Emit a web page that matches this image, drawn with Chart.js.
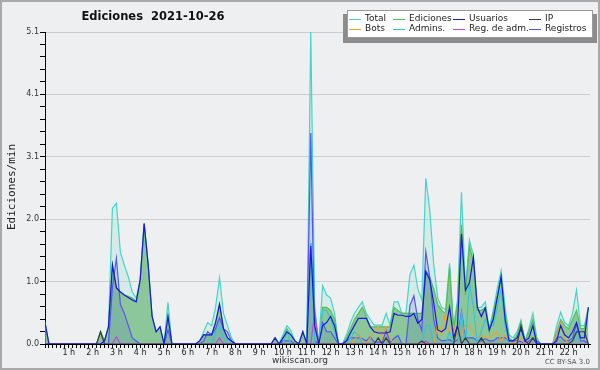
<!DOCTYPE html>
<html><head><meta charset="utf-8">
<script src="https://cdn.jsdelivr.net/npm/chart.js@4.4.0/dist/chart.umd.min.js"></script>
<style>html,body{margin:0;padding:0;background:#eeeff1;}canvas{display:block;}</style>
</head><body><canvas id="c" width="600" height="370"></canvas>
<script>
// ---- data: one value every 10 minutes from 00:00 ----
const titleText = 'Ediciones  2021-10-26';
const yTitle = 'Ediciones/min';
const yMax = 5.1;
const yTickLabels = ['0.0','1.0','2.0','3.1','4.1','5.1'];
const hourLabels = ['','1 h','2 h','3 h','4 h','5 h','6 h','7 h','8 h','9 h','10 h','11 h','12 h','13 h','14 h','15 h','16 h','17 h','18 h','19 h','20 h','21 h','22 h',''];
const seriesNames = ['Total','Ediciones','Usuarios','IP','Bots','Admins.','Reg. de adm.','Registros'];

const total = [
0.35,0,0,0,0,0,0,0,0,0,
0,0,0,0,0.2,0.05,0.28,2.22,2.3,1.5,
1.29,1.1,0.85,0.75,1.05,1.97,1.3,0.45,0.2,0.28,
0,0.68,0,0,0,0,0,0,0,0.05,
0.2,0.35,0.3,0.6,1.08,0.5,0.3,0.1,0,0,
0,0,0,0,0,0,0,0,0.1,0,
0.15,0.3,0.22,0.05,0,0.2,0,5.1,0.6,0,
0.95,0.8,0.75,0.5,0,0,0.15,0.35,0.5,0.6,
0.69,0.5,0.4,0.31,0.31,0.31,0.5,0.31,0.69,0.69,
0.5,0.5,1.13,1.29,0.9,0.72,2.71,2.19,1.3,0.75,
0.6,0.56,1.32,0.28,0.72,2.48,0.9,1.7,1.45,0.6,
0.6,0.69,0.25,0.55,0.9,1.2,0.6,0.15,0.1,0.2,
0.39,0.05,0.25,0.5,0.1,0,0,0,0,0.3,
0.52,0.35,0.3,0.5,0.88,0.3,0.3,0.6];
const ediciones = [
0.35,0,0,0,0,0,0,0,0,0,
0,0,0,0,0.2,0.05,0.28,1.29,0.92,0.85,
0.8,0.78,0.75,0.7,1.05,1.97,1.3,0.45,0.2,0.28,
0,0.45,0,0,0,0,0,0,0,0.05,
0.15,0.15,0.15,0.35,0.65,0.25,0.1,0.05,0,0,
0,0,0,0,0,0,0,0,0.1,0,
0.1,0.25,0.15,0.05,0,0.2,0,1.65,0.55,0,
0.6,0.6,0.55,0.4,0,0,0.1,0.25,0.4,0.5,
0.6,0.45,0.28,0.28,0.28,0.28,0.28,0.28,0.6,0.55,
0.5,0.5,0.5,0.5,0.5,0.5,1.2,1.1,0.9,0.65,
0.55,0.5,1.25,0.25,0.65,1.95,0.8,1.6,1.35,0.55,
0.55,0.6,0.2,0.5,0.8,1.1,0.5,0.1,0.05,0.15,
0.35,0.05,0.2,0.4,0.05,0,0,0,0,0.2,
0.4,0.3,0.25,0.4,0.55,0.25,0.25,0.6];
const usuarios = [
0.35,0,0,0,0,0,0,0,0,0,
0,0,0,0,0,0.05,0.28,1.29,0.92,0.85,
0.8,0.76,0.72,0.69,1.05,1.97,1.3,0.45,0.2,0.28,
0,0.45,0,0,0,0,0,0,0,0.05,
0.15,0.15,0.15,0.35,0.65,0.25,0.1,0.05,0,0,
0,0,0,0,0,0,0,0,0.1,0,
0.1,0.2,0.15,0.05,0,0.2,0,1.6,0.3,0,
0.3,0.35,0.45,0.3,0,0,0.05,0.18,0.3,0.42,
0.42,0.42,0.28,0.2,0.18,0.18,0.18,0.2,0.5,0.47,
0.47,0.45,0.45,0.5,0.34,0.4,1.18,1.05,0.67,0.23,
0.2,0.25,0.6,0.1,0.3,1.8,0.88,1.0,1.42,0.6,
0.45,0.59,0.23,0.4,0.75,1.1,0.4,0.05,0.05,0.1,
0.25,0.05,0.1,0.3,0,0,0,0,0,0.05,
0.3,0.15,0.1,0.2,0.35,0.1,0.1,0.6];
const ip = [
0,0,0,0,0,0,0,0,0,0,
0,0,0,0,0.2,0,0,0,0,0,
0,0,0,0,0,0,0,0,0,0,
0,0,0,0,0,0,0,0,0,0,
0,0,0,0,0,0,0,0,0,0,
0,0,0,0,0,0,0,0,0,0,
0,0,0,0,0,0,0,0,0,0,
0,0,0,0,0,0,0,0,0,0,
0,0,0,0,0.1,0,0.1,0,0,0,
0,0,0,0,0,0.05,0,0,0,0,
0,0,0,0,0.3,0,0.1,0,0,0,
0.1,0,0,0,0,0,0,0,0,0,
0.3,0.05,0,0.1,0,0,0,0,0,0,
0,0,0,0.05,0.2,0.2,0.2,0];
const bots = [
0,0,0,0,0,0,0,0,0,0,
0,0,0,0,0,0,0,0,0,0,
0,0,0,0,0,0,0,0,0,0,
0,0,0,0,0,0,0,0,0,0,
0,0,0,0,0,0,0,0,0,0,
0,0,0,0,0,0,0,0,0,0,
0,0,0,0,0,0,0,0,0,0,
0,0,0,0,0,0,0,0,0.05,0.18,
0.05,0,0.1,0.2,0.28,0.1,0.28,0.1,0,0,
0,0,0,0,0,0.05,0,0,0,0.3,
0.15,0.5,0.15,0.3,0.1,0.15,0.3,0.3,0.2,0.1,
0.15,0.1,0.1,0.15,0.2,0.05,0.15,0.05,0,0.05,
0.1,0,0,0.1,0,0,0,0,0,0.15,
0.35,0.1,0,0,0,0,0,0];
const admins = [
0,0,0,0,0,0,0,0,0,0,
0,0,0,0,0,0,0,0,0,0,
0,0,0,0,0,0,0,0,0,0,
0,0,0,0,0,0,0,0,0,0,
0,0,0,0.2,0.3,0.1,0,0,0,0,
0,0,0,0,0,0,0,0,0,0,
0,0.2,0,0,0,0,0,1.65,0,0,
0.55,0.55,0.4,0.2,0,0,0,0.1,0.2,0.15,
0,0,0,0,0,0,0,0,0,0,
0,0,0,0,0,0,0.3,0.3,0,0,
0,0,0.2,0,0,0.5,0,1.0,0.6,0,
0.2,0.4,0.3,0.3,0.6,0.9,0.3,0,0,0,
0,0,0,0,0,0,0,0,0,0,
0,0,0,0,0.2,0,0,0];
const regAdm = [
0,0,0,0,0,0,0,0,0,0,
0,0,0,0,0,0,0,0,0.12,0,
0,0,0,0,0,0,0,0,0,0,
0,0,0,0,0,0,0,0,0,0,
0,0,0,0,0.1,0,0,0,0,0,
0,0,0,0,0,0,0,0,0,0,
0,0,0,0,0,0,0,0,0.5,0,
0,0,0,0,0,0,0,0,0,0,
0,0,0,0,0,0,0,0,0,0,
0,0,0,0,0,0,0.05,0,0,0,
0,0,0,0,0,0,0,0,0,0,
0,0,0,0,0,0,0,0,0,0,
0,0,0,0,0,0,0,0,0,0,
0,0,0,0,0,0,0,0];
const registros = [
0,0,0,0,0,0,0,0,0,0,
0,0,0,0,0,0,0,0.93,1.4,0.65,
0.5,0.3,0.1,0.05,0,0,0,0,0,0,
0,0.23,0,0,0,0,0,0,0,0,
0.05,0.2,0.15,0.25,0.43,0.25,0.2,0.05,0,0,
0,0,0,0,0,0,0,0,0,0,
0.05,0.05,0.05,0,0,0,0,3.45,0.05,0,
0.35,0.2,0.2,0.1,0,0,0.05,0.1,0.1,0.1,
0.09,0.05,0.12,0.03,0.03,0.03,0.22,0.03,0.09,0.14,
0,0,0.63,0.79,0.4,0.22,1.51,1.09,0.4,0.1,
0.05,0.06,0.07,0.03,0.07,0.53,0.1,0.1,0.1,0.05,
0.05,0.09,0.05,0.05,0.1,0.1,0.1,0.05,0.05,0.05,
0.04,0,0.05,0.1,0.05,0,0,0,0,0.1,
0.12,0.05,0.05,0.1,0.33,0.05,0.05,0];

const stepsPerHour = 6;
const xMax = 22.9;
const xs = total.map((_, i) => i / stepsPerHour);
const pts = arr => arr.map((v, i) => ({x: xs[i], y: v}));

const colors = {
  total: '#45d5c6', ed: '#55bf55', us: '#1818e0', ip: '#3a3a3a',
  bots: '#f0a030', adm: '#38c4d8', regadm: '#c048e0', reg: '#5656f2'
};

const bg = '#eeeff1';
const deco = {
  id: 'deco',
  beforeDraw(chart) {
    const ctx = chart.ctx;
    ctx.save(); ctx.fillStyle = bg; ctx.fillRect(0, 0, 600, 370); ctx.restore();
  },
  afterDraw(chart) {
    const ctx = chart.ctx;
    ctx.save();
    // border
    ctx.strokeStyle = '#a9a9a9'; ctx.lineWidth = 2; ctx.strokeRect(1, 1, 598, 368);
    // title
    ctx.fillStyle = '#111'; ctx.font = 'bold 11.5px "DejaVu Sans"';
    ctx.textAlign = 'center'; ctx.textBaseline = 'middle';
    ctx.fillText(titleText, 153, 17);
    // y title
    ctx.save(); ctx.translate(12, 187); ctx.rotate(-Math.PI / 2);
    ctx.font = '11px "DejaVu Sans Mono"'; ctx.fillStyle = '#222';
    ctx.fillText(yTitle, 0, 0); ctx.restore();
    // footer
    ctx.font = '9px "DejaVu Sans"'; ctx.fillStyle = '#333'; ctx.textAlign = 'center';
    ctx.fillText('wikiscan.org', 300, 361);
    ctx.font = '7px "DejaVu Sans"'; ctx.fillStyle = '#555'; ctx.textAlign = 'right';
    ctx.fillText('CC BY-SA 3.0', 590, 362);
    // legend
    ctx.fillStyle = '#8c8c8c'; ctx.fillRect(343, 14, 254, 29);
    ctx.fillStyle = '#ffffff'; ctx.fillRect(347, 10, 246, 28);
    ctx.strokeStyle = '#9a9a9a'; ctx.lineWidth = 1; ctx.strokeRect(347.5, 10.5, 245, 27);
    const cols = [349, 393, 453, 529];
    const rows = [19, 29];
    const cl = [colors.total, colors.ed, colors.us, colors.ip, colors.bots, colors.adm, colors.regadm, colors.reg];
    ctx.font = '9px "DejaVu Sans"'; ctx.textAlign = 'left'; ctx.textBaseline = 'middle';
    seriesNames.forEach((n, k) => {
      const cx = cols[k % 4], cy = rows[Math.floor(k / 4)];
      ctx.strokeStyle = cl[k]; ctx.lineWidth = 1;
      ctx.beginPath(); ctx.moveTo(cx, cy + 0.5); ctx.lineTo(cx + 12, cy + 0.5); ctx.stroke();
      ctx.fillStyle = '#222'; ctx.fillText(n, cx + 16, cy);
    });
    ctx.restore();
  }
};

const ds = (label, data, color, order, fillColor) => ({
  label, data: pts(data), borderColor: color, borderWidth: 1.2,
  backgroundColor: fillColor || 'transparent', fill: fillColor ? 'origin' : false,
  pointRadius: 0, tension: 0, order
});

new Chart(document.getElementById('c'), {
  type: 'line',
  data: {
    datasets: [
      ds(seriesNames[0], total, colors.total, 10, 'rgba(150,225,210,0.28)'),
      ds(seriesNames[1], ediciones, colors.ed, 9, 'rgba(95,178,105,0.62)'),
      ds(seriesNames[7], registros, colors.reg, 8, 'rgba(40,70,210,0.13)'),
      ds(seriesNames[4], bots, colors.bots, 6),
      ds(seriesNames[5], admins, colors.adm, 5),
      ds(seriesNames[6], regAdm, colors.regadm, 4),
      ds(seriesNames[3], ip, colors.ip, 3),
      ds(seriesNames[2], usuarios, colors.us, 2)
    ]
  },
  options: {
    responsive: false, animation: false, devicePixelRatio: 1,
    layout: { padding: { top: 32, right: 10, left: 0, bottom: 0 } },
    plugins: { legend: { display: false }, tooltip: { enabled: false }, title: { display: false } },
    scales: {
      x: {
        type: 'linear', min: 0, max: xMax,
        afterBuildTicks: s => { s.ticks = xs.map(v => ({ value: v })); },
        afterFit: s => { s.height = 26; },
        ticks: {
          autoSkip: false, maxRotation: 0, padding: 0,
          font: { family: 'DejaVu Sans', size: 8 }, color: '#222',
          callback: (v, i) => (i % stepsPerHour === 0 ? (hourLabels[i / stepsPerHour] || '') : '')
        },
        grid: { drawOnChartArea: false, tickColor: '#000', tickLength: 4, tickWidth: 1 },
        border: { color: '#000', width: 1 }
      },
      y: {
        type: 'linear', min: 0, max: yMax,
        afterBuildTicks: s => {
          const t = [];
          for (let k = 0; k <= 25; k++) t.push({ value: k * yMax / 25 });
          s.ticks = t;
        },
        afterFit: s => { s.width = 45; },
        ticks: {
          autoSkip: false, padding: 1,
          font: { family: 'DejaVu Sans', size: 8 }, color: '#333',
          callback: (v, i) => (i % 5 === 0 ? yTickLabels[i / 5] : '')
        },
        grid: {
          color: c => (c.index % 5 === 0 && c.index > 0 ? '#cdcdd0' : 'rgba(0,0,0,0)'),
          tickColor: '#000', tickLength: 5, tickWidth: 1
        },
        border: { color: '#000', width: 1 }
      }
    }
  },
  plugins: [deco]
});
</script></body></html>
